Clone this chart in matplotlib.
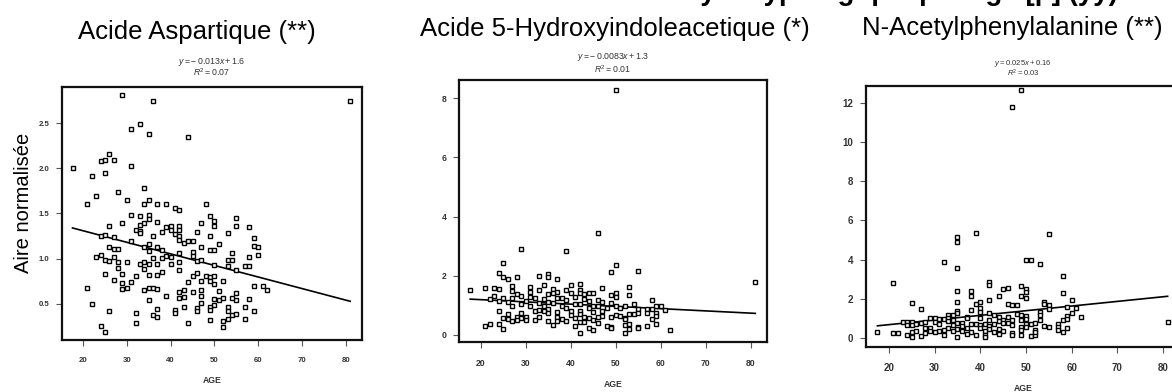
import numpy as np
import matplotlib
matplotlib.use('Agg')
import matplotlib.pyplot as plt

plt.rcParams['font.family'] = ['Liberation Sans', 'DejaVu Sans']
plt.rcParams['mathtext.fontset'] = 'custom'
plt.rcParams['mathtext.rm'] = 'Liberation Sans'
plt.rcParams['mathtext.it'] = 'Liberation Sans:italic'

# Panel titles / equations
titles = ["Acide Aspartique (**)", "Acide 5-Hydroxyindoleacetique (*)", "N-Acetylphenylalanine (**)"]
equations = [r"$y = -\,0.013x + 1.6$", r"$y = -\,0.0083x + 1.3$", r"$y = 0.025x + 0.16$"]
r2_labels = [r"$R^2 = 0.07$", r"$R^2 = 0.01$", r"$R^2 = 0.03$"]
# fitted line (slope, intercept) as drawn
fit_slope = [-0.0128, -0.0076, 0.0237]
fit_inter = [1.565, 1.343, 0.218]

# Acide Aspartique
asp_age = [29, 36, 81, 31, 33, 35, 44, 17.6, 24, 25, 26, 27, 22, 25, 31, 21, 23, 28, 30, 34,
           34, 35, 37, 39, 41, 42, 48, 31, 33, 35, 35, 29, 37, 26, 33, 34, 39, 40, 40, 42,
           42, 47, 49, 50, 50, 55, 55, 58, 32, 33, 33, 36, 38, 41, 42, 42, 43, 44, 45, 46,
           49, 51, 53, 59, 24, 25, 27, 31, 26, 27, 28, 34, 35, 35, 37, 38, 39, 40, 42, 45,
           47, 49, 50, 54, 59, 60, 60, 23, 24, 25, 26, 27, 28, 30, 33, 34, 35, 36, 37, 38,
           40, 42, 45, 46, 47, 53, 54, 57, 58, 58, 53, 50, 55, 28, 25, 27, 29, 29, 31, 32,
           34, 35, 37, 38, 42, 44, 45, 46, 47, 48, 49, 50, 50, 52, 49, 59, 61, 62, 21, 29,
           30, 34, 35, 36, 37, 42, 43, 45, 47, 51, 22, 35, 39, 42, 43, 47, 50, 51, 52, 55,
           55, 54, 58, 47, 50, 26, 37, 41, 41, 43, 46, 46, 49, 49, 53, 53, 54, 55, 57, 59,
           32, 36, 37, 32, 44, 49, 52, 53, 57, 24, 25, 52]
asp_val = [2.81, 2.75, 2.74, 2.44, 2.49, 2.38, 2.35, 2.00, 2.08, 2.09, 2.16, 2.09, 1.91, 1.95, 2.02, 1.61, 1.69, 1.74, 1.65, 1.78,
           1.61, 1.65, 1.61, 1.61, 1.56, 1.54, 1.61, 1.48, 1.47, 1.48, 1.44, 1.40, 1.41, 1.36, 1.37, 1.40, 1.35, 1.36, 1.32, 1.36,
           1.32, 1.40, 1.47, 1.42, 1.36, 1.45, 1.36, 1.35, 1.32, 1.31, 1.28, 1.25, 1.29, 1.27, 1.25, 1.21, 1.17, 1.20, 1.20, 1.29,
           1.25, 1.16, 1.28, 1.23, 1.25, 1.26, 1.24, 1.19, 1.13, 1.11, 1.11, 1.13, 1.16, 1.09, 1.13, 1.10, 1.03, 1.02, 1.06, 1.07,
           1.13, 1.10, 1.10, 1.06, 1.14, 1.13, 1.04, 1.02, 1.04, 0.98, 0.97, 1.02, 0.96, 0.96, 0.94, 0.96, 0.94, 1.01, 0.94, 1.01,
           0.94, 0.96, 1.03, 0.97, 0.99, 0.99, 0.99, 0.92, 0.92, 1.02, 0.92, 0.93, 0.88, 0.90, 0.83, 0.76, 0.83, 0.73, 0.74, 0.81,
           0.89, 0.82, 0.82, 0.85, 0.88, 0.74, 0.81, 0.84, 0.75, 0.81, 0.80, 0.81, 0.72, 0.75, 0.75, 0.70, 0.70, 0.65, 0.67, 0.66,
           0.67, 0.65, 0.67, 0.67, 0.66, 0.63, 0.65, 0.63, 0.65, 0.64, 0.50, 0.54, 0.59, 0.57, 0.58, 0.59, 0.55, 0.54, 0.56, 0.62,
           0.54, 0.56, 0.55, 0.51, 0.49, 0.42, 0.44, 0.43, 0.40, 0.46, 0.45, 0.42, 0.46, 0.43, 0.46, 0.42, 0.38, 0.39, 0.47, 0.42,
           0.40, 0.38, 0.35, 0.29, 0.29, 0.32, 0.31, 0.33, 0.33, 0.25, 0.19, 0.24]

# Acide 5-Hydroxyindoleacetique
hiaa_age = [50, 46, 29, 39, 25, 50, 55, 49, 24, 35, 35, 33, 28, 25, 26, 37, 27, 27, 34, 40,
            42, 53, 31, 21, 23, 24, 47, 17.6, 36, 39, 33, 42, 31, 37, 40, 44, 45, 50, 35, 36,
            28, 42, 43, 53, 49, 23, 29, 32, 38, 22, 25, 27, 31, 34, 37, 41, 43, 46, 50, 58,
            30, 35, 39, 44, 54, 24, 26, 29, 33, 36, 41, 47, 49, 31, 34, 38, 42, 45, 46, 50,
            52, 59, 60, 27, 35, 39, 44, 48, 51, 55, 57, 58, 61, 24, 32, 33, 34, 35, 37, 40,
            42, 45, 47, 54, 57, 59, 26, 29, 40, 42, 47, 50, 51, 59, 53, 55, 25, 28, 30, 33,
            37, 41, 43, 46, 49, 52, 26, 29, 32, 38, 44, 58, 27, 28, 30, 35, 37, 39, 45, 52,
            42, 43, 46, 22, 24, 21, 36, 41, 48, 49, 52, 53, 57, 59, 44, 49, 55, 55, 53, 25,
            45, 62, 52, 42, 81]
hiaa_val = [8.28, 3.43, 2.90, 2.83, 2.42, 2.36, 2.17, 2.13, 2.10, 2.06, 1.97, 1.99, 1.97, 1.97, 1.89, 1.88, 1.66, 1.49, 1.69, 1.69,
            1.71, 1.63, 1.63, 1.57, 1.57, 1.55, 1.57, 1.52, 1.54, 1.52, 1.52, 1.52, 1.45, 1.45, 1.43, 1.43, 1.40, 1.40, 1.38, 1.40,
            1.39, 1.40, 1.37, 1.36, 1.34, 1.31, 1.31, 1.26, 1.26, 1.20, 1.25, 1.26, 1.29, 1.22, 1.26, 1.29, 1.20, 1.18, 1.27, 1.18,
            1.16, 1.11, 1.18, 1.16, 1.06, 1.16, 1.11, 1.06, 1.07, 1.07, 1.04, 1.10, 1.07, 0.99, 0.98, 0.96, 1.04, 0.99, 0.96, 0.98,
            0.98, 0.96, 0.96, 0.99, 0.87, 0.90, 0.90, 0.90, 0.90, 0.87, 0.89, 0.87, 0.84, 0.80, 0.80, 0.84, 0.80, 0.73, 0.79, 0.82,
            0.80, 0.78, 0.80, 0.69, 0.73, 0.73, 0.71, 0.73, 0.67, 0.69, 0.64, 0.67, 0.64, 0.64, 0.69, 0.73, 0.58, 0.62, 0.62, 0.61,
            0.60, 0.57, 0.60, 0.62, 0.62, 0.57, 0.55, 0.56, 0.51, 0.55, 0.56, 0.54, 0.47, 0.49, 0.51, 0.48, 0.48, 0.48, 0.51, 0.53,
            0.42, 0.44, 0.39, 0.36, 0.36, 0.30, 0.33, 0.30, 0.30, 0.28, 0.35, 0.36, 0.31, 0.36, 0.24, 0.24, 0.28, 0.24, 0.19, 0.19,
            0.17, 0.17, 0.08, 0.06, 1.79]

# N-Acetylphenylalanine
nap_age = [49, 47, 35, 35, 39, 55, 32, 50, 51, 53, 35, 58, 21, 42, 42, 49, 50, 50, 45, 46,
           35, 38, 38, 44, 49, 50, 58, 60, 42, 25, 35, 40, 39, 46, 47, 48, 54, 54, 55, 55,
           59, 61, 27, 38, 40, 40, 35, 35, 42, 53, 53, 48, 60, 33, 34, 37, 43, 44, 46, 49,
           50, 59, 62, 29, 30, 31, 32, 33, 34, 37, 40, 42, 44, 45, 47, 49, 50, 53, 58, 59,
           23, 24, 25, 27, 28, 30, 33, 35, 36, 38, 39, 40, 41, 43, 45, 46, 51, 52, 24, 25,
           26, 31, 34, 36, 42, 47, 50, 54, 57, 57, 55, 59, 50, 49, 28, 29, 33, 35, 37, 40,
           42, 44, 49, 57, 25, 26, 29, 31, 32, 34, 36, 38, 41, 43, 45, 52, 17.5, 21, 22, 28,
           30, 32, 37, 39, 41, 41, 44, 47, 47, 49, 51, 52, 58, 24, 25, 27, 35, 52, 81]
nap_val = [12.65, 11.77, 5.18, 4.91, 5.38, 5.33, 3.89, 3.97, 4.01, 3.80, 3.60, 3.19, 2.82, 2.89, 2.70, 2.67, 2.50, 2.34, 2.53, 2.56,
           2.39, 2.41, 2.16, 2.16, 2.16, 2.07, 2.33, 1.94, 1.97, 1.78, 1.87, 1.85, 1.75, 1.75, 1.68, 1.71, 1.85, 1.75, 1.68, 1.51,
           1.61, 1.56, 1.49, 1.46, 1.53, 1.34, 1.38, 1.27, 1.27, 1.32, 1.19, 1.24, 1.29, 1.19, 1.19, 1.10, 1.19, 1.10, 1.10, 1.19,
           1.14, 1.14, 1.09, 1.05, 1.02, 0.97, 0.97, 1.04, 0.93, 1.02, 1.02, 0.93, 0.87, 0.93, 0.93, 0.93, 1.00, 0.95, 0.93, 1.00,
           0.85, 0.83, 0.83, 0.80, 0.85, 0.83, 0.87, 0.80, 0.76, 0.73, 0.73, 0.68, 0.73, 0.71, 0.76, 0.80, 0.73, 0.76, 0.66, 0.70,
           0.71, 0.73, 0.68, 0.63, 0.63, 0.68, 0.73, 0.63, 0.73, 0.59, 0.56, 0.51, 0.56, 0.56, 0.53, 0.53, 0.53, 0.49, 0.53, 0.53,
           0.49, 0.46, 0.42, 0.42, 0.34, 0.36, 0.39, 0.39, 0.42, 0.37, 0.39, 0.34, 0.39, 0.31, 0.39, 0.42, 0.34, 0.25, 0.29, 0.25,
           0.31, 0.17, 0.22, 0.17, 0.17, 0.05, 0.22, 0.25, 0.15, 0.15, 0.12, 0.15, 0.31, 0.15, 0.05, 0.12, 0.08, 0.31, 0.83]

ages = [asp_age, hiaa_age, nap_age]
vals = [asp_val, hiaa_val, nap_val]

yticks = [[0.5, 1.0, 1.5, 2.0, 2.5], [0, 2, 4, 6, 8], [0, 2, 4, 6, 8, 10, 12]]
ytick_fmt = ["{:.1f}", "{:d}", "{:d}"]
xticks = [20, 30, 40, 50, 60, 70, 80]

# layout (figure fractions) and limits
rects = [[0.0529, 0.1327, 0.2560, 0.6454],
         [0.3916, 0.1276, 0.2628, 0.6684],
         [0.7389, 0.1156, 0.2679, 0.6650]]
xlims = [(15.2, 83.7), (15.1, 83.6), (15.0, 83.7)]
ylims = [(0.10, 2.90), (-0.24, 8.62), (-0.43, 12.85)]
tick_fs = [5.6, 6.2, 7.0]
eq_fs = [6.3, 6.3, 5.5]
title_x = [197, 615, 1012]
title_base = [39, 36, 35]
eq_y = [62.5, 57, 63.5]
r2_y = [72.5, 69, 73]

W, H = 1172, 392
fig = plt.figure(figsize=(W / 100, H / 100), dpi=100)

for i in range(3):
    ax = fig.add_axes(rects[i])
    x = np.array(ages[i], dtype=float)
    y = np.array(vals[i], dtype=float)
    ax.plot(x, y, 's', ms=3.2, mfc='white', mec='black', mew=1.0, zorder=3)
    xl = np.array([x.min(), x.max()])
    ax.plot(xl, fit_slope[i] * xl + fit_inter[i], color='black', lw=1.2, zorder=2)

    ax.set_xlim(*xlims[i])
    ax.set_ylim(*ylims[i])
    ax.set_xticks(xticks)
    ax.set_xticklabels([str(t) for t in xticks], fontsize=tick_fs[i], fontweight='bold', color='#333333')
    ax.set_yticks(yticks[i])
    ax.set_yticklabels([ytick_fmt[i].format(t) for t in yticks[i]], fontsize=tick_fs[i],
                       fontweight='bold', color='#333333')
    ax.tick_params(axis='x', direction='out', length=4, width=0.8, color='#555555', pad=8)
    ax.tick_params(axis='y', direction='out', length=4, width=0.8, color='#555555', pad=5)
    for s in ax.spines.values():
        s.set_linewidth(1.6)
        s.set_color('#111111')
    ax.set_xlabel("AGE", fontsize=6.2, fontweight='bold', color='#333333', va='center')
    ax.xaxis.set_label_coords(0.5, -0.162)

    cx = rects[i][0] + rects[i][2] / 2
    fig.text(title_x[i] / W, 1 - title_base[i] / H, titles[i], fontsize=18.5,
             ha='center', va='baseline', color='black')
    fig.text(cx, 1 - eq_y[i] / H, equations[i], fontsize=eq_fs[i], ha='center', va='center', color='#333333')
    fig.text(cx, 1 - r2_y[i] / H, r2_labels[i], fontsize=eq_fs[i], ha='center', va='center', color='#333333')

fig.text(24 / W, 1 - 203 / H, "Aire normalisée", rotation=90, fontsize=14.5,
         ha='center', va='center', color='black')

# slide heading above, cut off by the crop: only its descenders show in a thin strip
strip = fig.add_axes([0, 1 - 7 / H, 1, 7 / H])
strip.set_axis_off()
strip.text(645 / W, 1.0, "analyse typologique par âge [p] (yy)", fontsize=20, fontweight='bold',
           ha='left', va='baseline', color='black', clip_on=True, transform=strip.transAxes)

fig.savefig("out.png", dpi=100)
